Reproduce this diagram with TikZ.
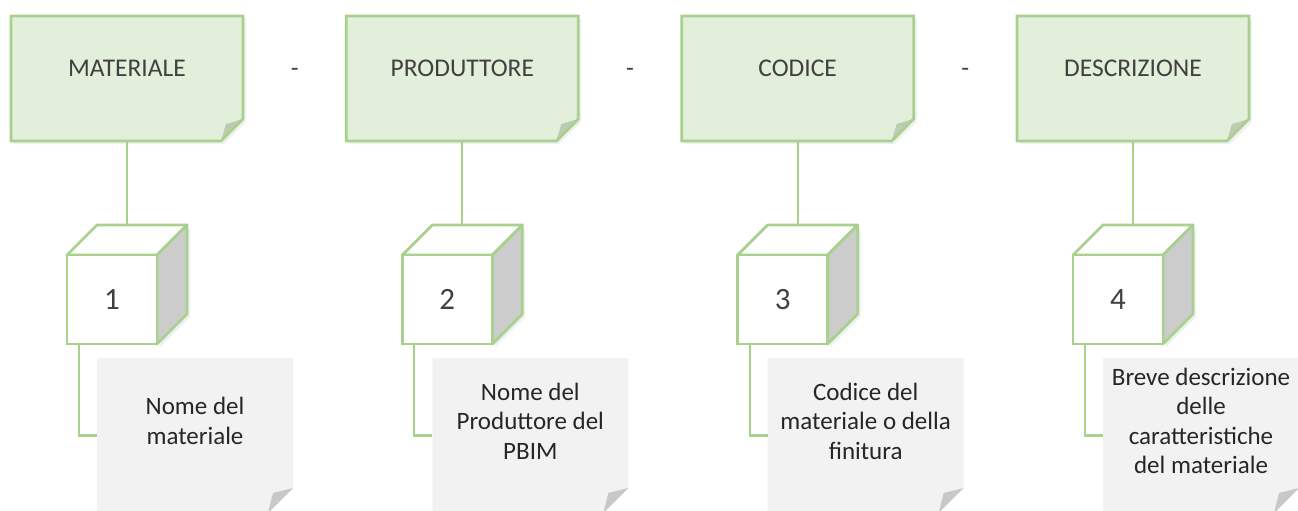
\documentclass[tikz,border=0pt]{standalone}
\usepackage{fontspec}
\setmainfont{Carlito}
\usetikzlibrary{calc,shadows}
\definecolor{hdrfill}{HTML}{E2EFDA}
\definecolor{hdrline}{HTML}{A9D18E}
\definecolor{hdrfold}{HTML}{BCCBB2}
\definecolor{notefill}{HTML}{F2F2F2}
\definecolor{notefold}{HTML}{C8C8C8}
\definecolor{cubeside}{HTML}{CCCCCC}
\definecolor{ink}{HTML}{404040}
\definecolor{notetext}{HTML}{262626}

\begin{document}
\begin{tikzpicture}[x=1pt,y=-1pt,
    header/.style ={minimum width=232pt, minimum height=125pt, inner sep=0pt, outer sep=0pt,
      append after command={\pgfextra{
        \fill[hdrfill, drop shadow={opacity=0.12, shadow xshift=3pt, shadow yshift=-3pt}]
          (\tikzlastnode.north west) -- (\tikzlastnode.north east) -- ([yshift=22pt]\tikzlastnode.south east)
          -- ([xshift=-22pt]\tikzlastnode.south east) -- (\tikzlastnode.south west) -- cycle;
        \fill[hdrfold] ([yshift=22pt]\tikzlastnode.south east) -- ([shift={(-17pt,17pt)}]\tikzlastnode.south east)
          -- ([xshift=-22pt]\tikzlastnode.south east) -- cycle;
        \draw[hdrline, line width=2.8pt]
          (\tikzlastnode.north west) -- (\tikzlastnode.north east) -- ([yshift=22pt]\tikzlastnode.south east)
          -- ([xshift=-22pt]\tikzlastnode.south east) -- (\tikzlastnode.south west) -- cycle;}}},
    note/.style ={minimum width=196pt, minimum height=155pt, inner sep=0pt, outer sep=0pt,
      append after command={\pgfextra{
        \fill[notefill]
          (\tikzlastnode.north west) -- (\tikzlastnode.north east) -- ([yshift=25pt]\tikzlastnode.south east)
          -- ([xshift=-25pt]\tikzlastnode.south east) -- (\tikzlastnode.south west) -- cycle;
        \fill[notefold] ([yshift=25pt]\tikzlastnode.south east) -- ([shift={(-20pt,20pt)}]\tikzlastnode.south east)
          -- ([xshift=-25pt]\tikzlastnode.south east) -- cycle;}}},
    cube/.style ={draw=hdrline, fill=white, line width=2.8pt, minimum width=90pt, minimum height=89pt,
      inner sep=0pt, outer sep=0pt, text=ink, font=\fontsize{31}{36}\selectfont,
      append after command={\pgfextra{
        \filldraw[fill=white, draw=hdrline, line width=2.8pt, line join=round]
          (\tikzlastnode.north west) -- ([shift={(30pt,30pt)}]\tikzlastnode.north west)
          -- ([shift={(30pt,30pt)}]\tikzlastnode.north east) -- (\tikzlastnode.north east) -- cycle;
        \filldraw[fill=cubeside, draw=hdrline, line width=2.8pt, line join=round,
          drop shadow={opacity=0.12, shadow xshift=3pt, shadow yshift=-3pt}]
          (\tikzlastnode.north east) -- ([shift={(30pt,30pt)}]\tikzlastnode.north east)
          -- ([shift={(30pt,30pt)}]\tikzlastnode.south east) -- (\tikzlastnode.south east) -- cycle;}}},
    hdrtext/.style ={text=ink, font=\fontsize{25.5}{30}\selectfont, inner sep=0pt},
    notetext/.style ={text=notetext, align=center, font=\fontsize{25}{29.5}\selectfont, inner sep=0pt},
    hyphen/.style ={text=ink, font=\fontsize{25.5}{30}\selectfont, inner sep=0pt, anchor=base},
    link/.style ={draw=hdrline, line width=2.3pt}]
   \useasboundingbox (0,0) rectangle (1298,511);
   \node[header] (h1) at (127,78.5) {};
   \node[header] (h2) at (462.33,78.5) {};
   \node[header] (h3) at (797.67,78.5) {};
   \node[header] (h4) at (1133,78.5) {};
   \node[cube] (c1) at (112,299.5) {1};
   \node[cube] (c2) at (447.33,299.5) {2};
   \node[cube] (c3) at (782.67,299.5) {3};
   \node[cube] (c4) at (1118,299.5) {4};
   \node[note] (n1) at (195,435.5) {};
   \node[note] (n2) at (530.33,435.5) {};
   \node[note] (n3) at (865.67,435.5) {};
   \node[note] (n4) at (1201,435.5) {};
   \node[hdrtext] (t1) at (127,68.5) {MATERIALE};
   \node[hdrtext] (t2) at (462.33,68.5) {PRODUTTORE};
   \node[hdrtext] (t3) at (797.67,68.5) {CODICE};
   \node[hdrtext] (t4) at (1133,68.5) {DESCRIZIONE};
   \node[hyphen] (s1) at ($(t1.base)!0.5!(t2.base)$) {-};
   \node[hyphen] (s2) at ($(t2.base)!0.5!(t3.base)$) {-};
   \node[hyphen] (s3) at ($(t3.base)!0.5!(t4.base)$) {-};
   \node[notetext] (d1) at (195,421) {Nome del\\materiale};
   \node[notetext] (d2) at (530.33,421) {Nome del\\Produttore del\\PBIM};
   \node[notetext] (d3) at (865.67,421) {Codice del\\materiale o della\\finitura};
   \node[notetext] (d4) at (1201,421) {Breve descrizione\\delle\\caratteristiche\\del materiale};
   \coordinate (k1) at ([shift={(15pt,30pt)}]c1.north);
   \coordinate (k2) at ([shift={(15pt,30pt)}]c2.north);
   \coordinate (k3) at ([shift={(15pt,30pt)}]c3.north);
   \coordinate (k4) at ([shift={(15pt,30pt)}]c4.north);
   \draw[link] (h1.south) -- (k1);
   \draw[link] (h2.south) -- (k2);
   \draw[link] (h3.south) -- (k3);
   \draw[link] (h4.south) -- (k4);
   \draw[link] ([xshift=12pt]c1.south west) |- (n1.west);
   \draw[link] ([xshift=12pt]c2.south west) |- (n2.west);
   \draw[link] ([xshift=12pt]c3.south west) |- (n3.west);
   \draw[link] ([xshift=12pt]c4.south west) |- (n4.west);
 \end{tikzpicture}
\end{document}
